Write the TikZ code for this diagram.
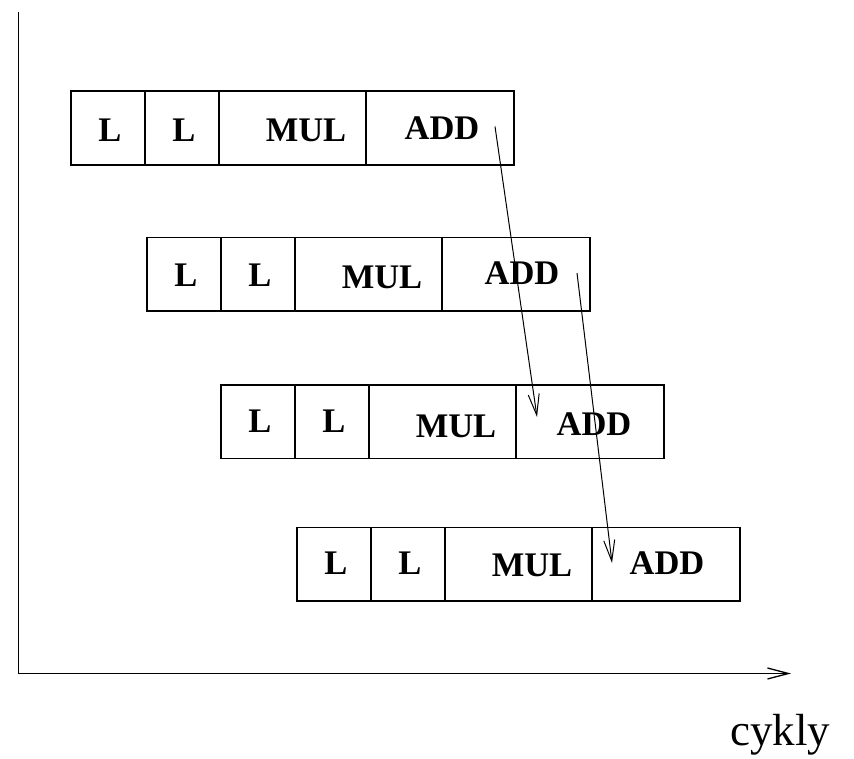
\documentclass[tikz,border=0pt]{standalone}
\usepackage{fontspec}
\setmainfont{Liberation Serif}
\usetikzlibrary{arrows.meta}
\begin{document}
\begin{tikzpicture}[x=1pt,y=-1pt,
  cell/.style={draw, line width=1.6pt, rectangle, anchor=north west,
    inner sep=0pt, minimum height=73.5pt},
  op/.style={font=\bfseries\fontsize{34.5}{34.5}\selectfont, anchor=base, inner sep=0pt},
  axis/.style={line width=1.7pt},
  flow/.style={line width=1pt,
    -{Straight Barb[length=21pt,width=11pt,line width=1pt]}},
]
\useasboundingbox (0,0) rectangle (854,759);

% time axis
\coordinate (top) at (18.6,12);
\coordinate (origin) at (18.6,673.5);
\coordinate (xend) at (791,673.5);
\draw[axis] (top) -- (origin);
\draw[axis, -{Straight Barb[length=21pt,width=11pt,line width=1.3pt]}] (origin) -- (xend);
\node[font=\fontsize{45}{45}\selectfont, anchor=base west, inner sep=0pt] (cykly) at (730,745) {cykly};

% one instruction sequence per row: L, L, MUL, ADD
\foreach \r/\x/\y/\bl/\bm/\ba/\ax in {
    1/70/90.5/51/51/49/372,
    2/146/236.7/50/52/48/376,
    3/220/384.3/48/53/51/374,
    4/296/526.7/48/50/48/371} {
  \node[cell, minimum width=74pt]  (ld-\r)  at (\x,\y) {};
  \node[cell, minimum width=74pt]  (ldb-\r) at (\x+74,\y) {};
  \node[cell, minimum width=147pt] (mul-\r) at (\x+148,\y) {};
  \node[cell, minimum width=148pt] (add-\r) at (\x+295,\y) {};
  \node[op] (tld-\r)  at (\x+40,\y+\bl) {L};
  \node[op] (tldb-\r) at (\x+114,\y+\bl) {L};
  \node[op] (tmul-\r) at (\x+236,\y+\bm) {MUL};
  \node[op] (tadd-\r) at (\x+\ax,\y+\ba) {ADD};
}

% data dependencies between the ADD stages
\coordinate (dep1) at (495,126.5);
\coordinate (use1) at (537,417);
\coordinate (dep2) at (577,273);
\coordinate (use2) at (612,563);
\draw[flow] (dep1) -- (use1);
\draw[flow] (dep2) -- (use2);
\end{tikzpicture}
\end{document}
